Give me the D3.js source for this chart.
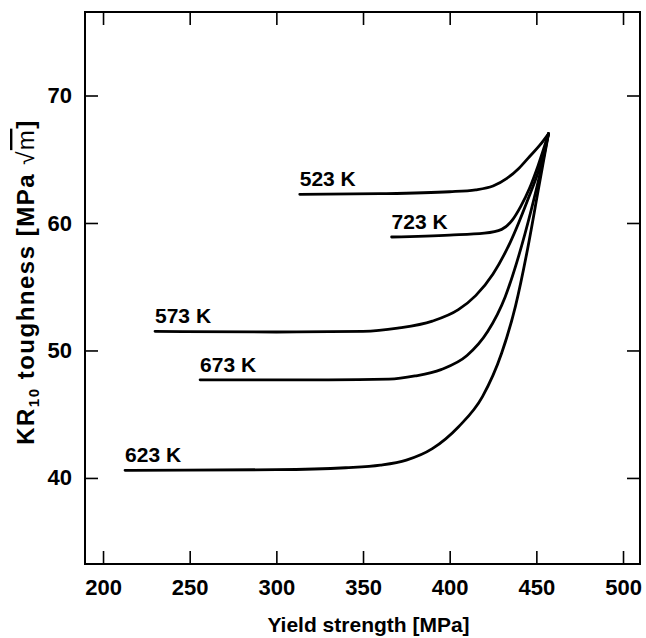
<!DOCTYPE html>
<html>
<head>
<meta charset="utf-8">
<script src="https://cdn.jsdelivr.net/npm/d3@7/dist/d3.min.js"></script>
<style>
  html, body { margin: 0; padding: 0; background: #fff; }
  svg text { font-family: "Liberation Sans", Arial, Helvetica, sans-serif; font-weight: bold; fill: #000; }
</style>
</head>
<body>
<svg id="chart" width="646" height="638"></svg>
<script>
// Yield strength [MPa] vs. KR10 toughness for each aging temperature
const xTicks = [200, 250, 300, 350, 400, 450, 500];
const yTicks = [40, 50, 60, 70];

const seriesLabels = ["523 K", "723 K", "573 K", "673 K", "623 K"];

const strength523 = [313.5, 360, 400, 415, 425, 433, 440, 446, 452, 457];
const toughness523 = [62.25, 62.3, 62.45, 62.6, 62.9, 63.5, 64.3, 65.2, 66.1, 67.0];

const strength723 = [366.5, 400, 420, 430, 436, 441, 446, 451, 457];
const toughness723 = [58.9, 59.05, 59.2, 59.5, 60.2, 61.3, 62.7, 64.5, 67.0];

const strength573 = [230, 300, 350, 370, 390, 405, 415, 425, 435, 445, 452, 457];
const toughness573 = [51.5, 51.45, 51.5, 51.75, 52.3, 53.2, 54.3, 56.0, 58.5, 61.8, 64.4, 67.0];

const strength673 = [256, 330, 365, 380, 395, 410, 422, 432, 440, 447, 452, 457];
const toughness673 = [47.7, 47.7, 47.75, 48.0, 48.5, 49.6, 51.5, 54.2, 57.5, 61.0, 63.8, 67.0];

const strength623 = [212.7, 300, 340, 360, 375, 390, 405, 419, 430, 438, 445, 451, 457];
const toughness623 = [40.6, 40.65, 40.8, 41.0, 41.4, 42.3, 44.0, 46.4, 49.8, 53.5, 58.0, 62.5, 67.0];

const strengths = [strength523, strength723, strength573, strength673, strength623];
const toughnesses = [toughness523, toughness723, toughness573, toughness673, toughness623];

const series = seriesLabels.map((label, i) => ({
  label,
  points: strengths[i].map((s, j) => [s, toughnesses[i][j]])
}));

const svg = d3.select("#chart");
const plot = { left: 85, right: 640, top: 12, bottom: 564 };

const x = d3.scaleLinear().domain([189.6, 509.8]).range([plot.left, plot.right]);
const y = d3.scaleLinear().domain([33.25, 76.55]).range([plot.bottom, plot.top]);

const tickLen = 13;

// axes: ticks point inward on all four sides
const gx = svg.append("g")
  .attr("transform", `translate(0,${plot.bottom})`)
  .call(d3.axisBottom(x).tickValues(xTicks).tickSize(-tickLen).tickPadding(15));
const gxt = svg.append("g")
  .attr("transform", `translate(0,${plot.top})`)
  .call(d3.axisTop(x).tickValues(xTicks).tickSize(-tickLen).tickFormat(""));
const gy = svg.append("g")
  .attr("transform", `translate(${plot.left},0)`)
  .call(d3.axisLeft(y).tickValues(yTicks).tickSize(-tickLen).tickPadding(13));
const gyr = svg.append("g")
  .attr("transform", `translate(${plot.right},0)`)
  .call(d3.axisRight(y).tickValues(yTicks).tickSize(-tickLen).tickFormat(""));

[gx, gxt, gy, gyr].forEach(g => {
  g.select(".domain").remove();
  g.selectAll(".tick line").attr("stroke", "#000").attr("stroke-width", 1.6);
  g.selectAll(".tick text")
    .style("font-size", "22px")
    .style("font-weight", "bold")
    .style("font-family", '"Liberation Sans", Arial, Helvetica, sans-serif')
    .attr("fill", "#000");
});

// frame
svg.append("rect")
  .attr("x", plot.left).attr("y", plot.top)
  .attr("width", plot.right - plot.left).attr("height", plot.bottom - plot.top)
  .attr("fill", "none").attr("stroke", "#000").attr("stroke-width", 2);

// curves
const line = d3.line()
  .x(d => x(d[0]))
  .y(d => y(d[1]))
  .curve(d3.curveMonotoneX);

svg.append("g").selectAll("path")
  .data(series)
  .join("path")
  .attr("d", d => line(d.points))
  .attr("fill", "none")
  .attr("stroke", "#000")
  .attr("stroke-width", 2.8)
  .attr("stroke-linecap", "round");

// temperature labels at the left end of each curve
svg.append("g").selectAll("text")
  .data(series)
  .join("text")
  .attr("x", d => x(d.points[0][0]))
  .attr("y", d => y(d.points[0][1]) - 8)
  .style("font-size", "21px")
  .text(d => d.label);

// x-axis title
svg.append("text")
  .attr("x", (plot.left + plot.right) / 2 + 6)
  .attr("y", 632)
  .attr("text-anchor", "middle")
  .style("font-size", "21px")
  .text("Yield strength [MPa]");

// y-axis title
const yt = svg.append("text")
  .attr("transform", `translate(34,282) rotate(-90)`)
  .attr("text-anchor", "middle")
  .style("font-size", "24px")
  .style("letter-spacing", "1.5px");
yt.append("tspan").text("KR");
yt.append("tspan").attr("dy", 5).style("font-size", "15px").text("10");
yt.append("tspan").attr("dy", -5).text(" toughness [MPa ");
yt.append("tspan").style("font-weight", "normal").text("√");
yt.append("tspan").style("font-weight", "normal").style("text-decoration", "overline").text("m");
yt.append("tspan").text("]");
</script>
</body>
</html>
